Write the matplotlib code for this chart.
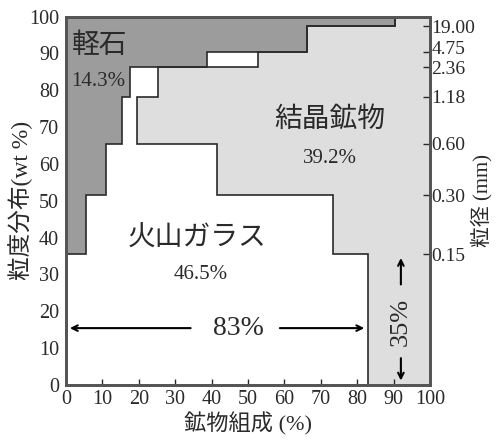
import matplotlib
matplotlib.use("Agg")
from matplotlib import pyplot as plt
from matplotlib import transforms
import numpy as np

plt.rcParams['font.family'] = ['Liberation Serif', 'Noto Sans CJK JP']

# sieve class boundaries (wt %, cumulative) and grain size at each boundary
bounds = [0, 35.5, 51.5, 65.5, 78.2, 86.2, 90.4, 97.4, 100]
sizes = ["0.15", "0.30", "0.60", "1.18", "2.36", "4.75", "19.00"]
# right edge of pumice and of glass for each class (%)
pumice_end = [0, 5.5, 11.0, 15.4, 17.6, 38.7, 66.2, 90.4]
glass_end = [83.0, 73.4, 41.5, 19.5, 25.3, 52.7, 66.2, 90.4]

dark = "#9c9c9c"
light = "#dedede"
edge = "#2a2a2a"
txt = "#2a2a2a"

fig = plt.figure(figsize=(5.0, 4.48), dpi=100)
ax = fig.add_axes([0.132, 0.141, 0.728, 0.822])
ax.set_facecolor(light)

ax.stairs(glass_end, bounds, orientation='horizontal', fill=True, color='white')
ax.stairs(pumice_end, bounds, orientation='horizontal', fill=True, color=dark)
ax.stairs(glass_end, bounds, orientation='horizontal', baseline=None, color=edge, lw=1.2)
ax.stairs(pumice_end, bounds, orientation='horizontal', baseline=None, color=edge, lw=1.2)

ax.set_xlim(0, 100)
ax.set_ylim(0, 100)
ax.set_xticks(np.arange(0, 101, 10))
ax.set_yticks(np.arange(0, 101, 10))
ax.tick_params(axis='x', direction='in', length=4, width=1, labelsize=14.5, pad=4, colors=txt)
ax.tick_params(axis='y', length=0, labelsize=14.5, pad=5, colors=txt)
for s in ax.spines.values():
    s.set_linewidth(2)
    s.set_color("#555555")

ax.set_xlabel("鉱物組成 (%)", fontsize=16, color=txt, labelpad=2)
ax.set_ylabel("粒度分布(wt %)", fontsize=17, color=txt, labelpad=-3)

ax2 = ax.twinx()
ax2.set_ylim(0, 100)
ax2.set_yticks(bounds[1:-1])
ax2.set_yticklabels(sizes)
ax2.tick_params(axis='y', direction='in', length=5, width=1, labelsize=14, pad=1, colors=txt)
for s in ax2.spines.values():
    s.set_linewidth(2)
    s.set_color("#555555")
ax2.set_ylabel("粒径 (mm)", fontsize=15, color=txt, rotation=90, labelpad=-3)
# nudge the crowded 4.75 label upward a little
lab = ax2.get_yticklabels()[5]
lab.set_transform(lab.get_transform() + transforms.ScaledTranslation(0, 4 / 100, fig.dpi_scale_trans))

# region labels
ax.text(1.5, 92, "軽石", fontsize=20, color=txt, ha='left', va='center')
ax.text(1.5, 82.5, "14.3%", fontsize=15, color=txt, ha='left', va='center')
ax.text(72.5, 72, "結晶鉱物", fontsize=20, color=txt, ha='center', va='center')
ax.text(72.5, 61.5, "39.2%", fontsize=15, color=txt, ha='center', va='center')
ax.text(36, 39.5, "火山ガラス", fontsize=20, color=txt, ha='center', va='center')
ax.text(37, 30, "46.5%", fontsize=15, color=txt, ha='center', va='center')

# 83% arrows
ax.text(47.3, 15.4, "83%", fontsize=20, color=txt, ha='center', va='center')
ax.annotate("", xy=(0.3, 15.4), xytext=(35, 15.4),
            arrowprops=dict(arrowstyle='->', color='black', lw=1.5))
ax.annotate("", xy=(82.7, 15.4), xytext=(58, 15.4),
            arrowprops=dict(arrowstyle='->', color='black', lw=1.5))

# 35% arrows
ax.text(92, 17.2, "35%", fontsize=19, color=txt, ha='center', va='center', rotation=90)
ax.annotate("", xy=(92, 35.2), xytext=(92, 26.5),
            arrowprops=dict(arrowstyle='->', color='black', lw=1.5))
ax.annotate("", xy=(92, 0.4), xytext=(92, 8.0),
            arrowprops=dict(arrowstyle='->', color='black', lw=1.5))

fig.savefig("out.png", dpi=100)
